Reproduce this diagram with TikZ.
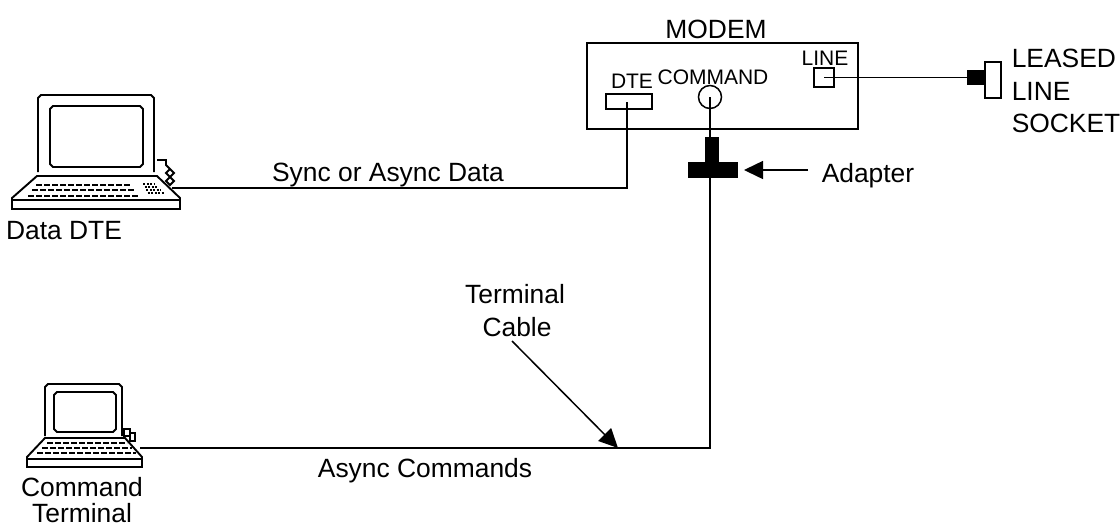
\documentclass[tikz,border=0pt]{standalone}
\usepackage{fontspec}
\setmainfont{Liberation Sans}
\usetikzlibrary{positioning}
\usetikzlibrary{arrows.meta}

\begin{document}
\begin{tikzpicture}
    [x=1pt, y=-1pt, line width=1.5pt,
     lbl/.style={anchor=base, inner sep=0pt, font=\fontsize{26.4}{32}\selectfont},
     lblw/.style={lbl, anchor=base west},
     small/.style={anchor=base, inner sep=0pt, font=\fontsize{21}{24}\selectfont},
     box/.style={rectangle, draw, outer sep=0pt, inner sep=0pt},
     solid box/.style={box, fill=black},
     set/.style={line width=1.9pt},
     keys/.style={line width=2.4pt, dash pattern=on 6pt off 2pt},
     wire/.style={line width=1.5pt},
     pointer/.style={-{Triangle[length=19pt,width=18pt]}, line width=1.5pt}]

    \useasboundingbox (0,0) rectangle (1120,528);

    % modem and its ports
    \node [box, minimum width=271pt, minimum height=86pt, anchor=north west] (modem) at (587,43) {};
    \node [lbl] (modemlbl) at (716,38) {MODEM};
    \node [box, minimum width=46pt, minimum height=15pt, below right=51pt and 19pt of modem.north west, anchor=north west] (dte) {};
    \node [box, circle, minimum size=23pt, anchor=center] (cmd) at (710,97) {};
    \node [box, minimum width=20pt, minimum height=19pt, below right=25pt and 227pt of modem.north west, anchor=north west] (line) {};
    \node [small] (dtelbl) at (632,88) {DTE};
    \node [small] (cmdlbl) at (713,84) {COMMAND};
    \node [small] (linelbl) at (825,65) {LINE};

    % adapter
    \node [solid box, minimum width=12pt, minimum height=25pt, anchor=north west] (stem) at (706,138) {};
    \node [solid box, minimum width=48pt, minimum height=14pt, anchor=north west] (adapter) at (689,163) {};
    \node [lblw] (adapterlbl) at (821,182) {Adapter};
    \coordinate (adaptertail) at (808,170);

    % leased line socket
    \node [box, minimum width=16pt, minimum height=36pt, anchor=north west] (socket) at (985,62) {};
    \node [solid box, minimum width=17pt, minimum height=13pt, anchor=east] (plug) at (socket.west |- line) {};
    \node [lblw] (leased) at (1011,67) {LEASED};
    \node [lblw] (leased2) at (1011,100) {LINE};
    \node [lblw] (leased3) at (1011,132) {SOCKET};

    % data DTE
    \draw [set] (38,172) -- (38,98) -- (41,95) -- (151,95) -- (154,98) -- (154,172);
    \draw [set] (53,106) -- (140,106) -- (143,109) -- (143,164) -- (140,167) -- (53,167) -- (50,164) -- (50,109) -- cycle;
    \draw [set] (37,176) -- (157,176) -- (180,198) -- (180,209) -- (12,209) -- (12,198) -- cycle;
    \draw [set] (12,200) -- (180,200);
    \draw [keys] (36,185) -- (130,185);
    \draw [keys] (32,190) -- (135,190);
    \draw [keys] (28,196) -- (138,196);
    \foreach \i in {0,1,2,3}
        \draw [line width=1.3pt, dash pattern=on 2pt off 1.5pt] (143+\i*1.5,184+\i*3) -- (155+\i*3,184+\i*3);
    \draw [set] (157,160) -- (166,160) -- (166,165) -- (170,169) -- (166,173) -- (170,177) -- (174,181) -- (170,185) -- (166,181) -- (170,177) -- (174,173) -- (170,169) -- (166,165);
    \coordinate (dataport) at (172,188);
    \node [lbl] (datalbl) at (64,239) {Data DTE};

    % command terminal
    \draw [set] (45,436) -- (45,387) -- (48,384) -- (119,384) -- (122,387) -- (122,436);
    \draw [set] (57,392) -- (113,392) -- (116,395) -- (116,429) -- (113,432) -- (57,432) -- (54,429) -- (54,395) -- cycle;
    \draw [set] (45,438) -- (125,438) -- (142,457) -- (142,467) -- (27,467) -- (27,457) -- cycle;
    \draw [set] (27,459) -- (142,459);
    \draw [keys] (47,443) -- (127,443);
    \draw [keys] (42,448) -- (132,448);
    \draw [keys] (37,453) -- (136,453);
    \draw [set] (124,429) rectangle (130,436) (130,433) rectangle (135,441);
    \coordinate (termport) at (140,448);
    \node [lbl] (cmdterm) at (82,496) {Command};
    \node [lbl] (cmdterm2) at (82,522) {Terminal};

    % connectors
    \coordinate (corner) at (cmd |- termport);
    \coordinate (cabletip) at (618,448);
    \coordinate (cabletail) at (512,341);
    \draw [wire] (dataport) -| ([xshift=-2pt] dte.center);
    \draw [wire] (cmd.center) -- (cmd |- stem.north);
    \draw [wire] (cmd |- adapter.south) -- (corner) -- (termport);
    \draw [wire] (line.center) -- (plug.west);
    \draw [pointer] (adaptertail) -- (adapter.east -| 744,0);
    \draw [pointer] (cabletail) -- (cabletip);

    \node [lbl] (synclbl) at (388,181) {Sync or Async Data};
    \node [lbl] (asynclbl) at (425,477) {Async Commands};
    \node [lbl] (termcable) at (515,303) {Terminal};
    \node [lbl] (termcable2) at (517,336) {Cable};
\end{tikzpicture}
\end{document}
